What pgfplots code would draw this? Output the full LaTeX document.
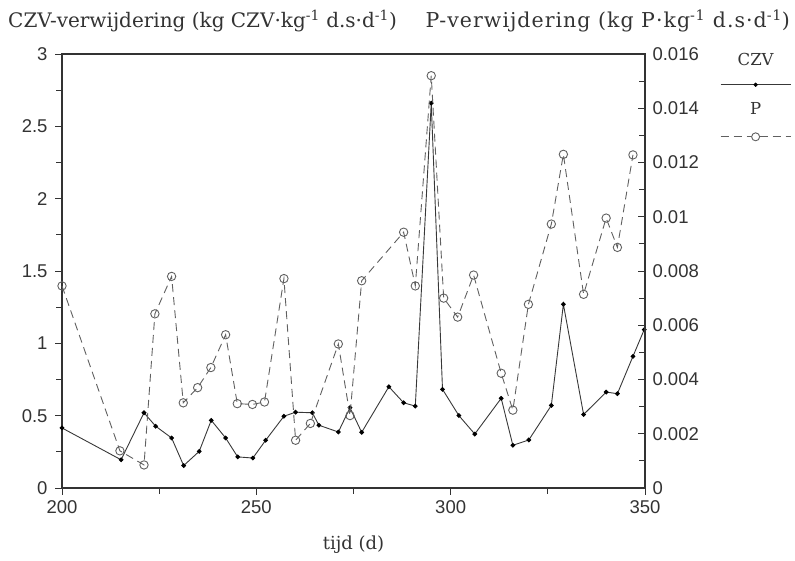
\documentclass[border=0pt]{standalone}
\usepackage{fontspec}
\setmainfont{DejaVu Serif}
\newfontfamily\ticksf{Liberation Sans}
\usepackage{pgfplots}
\pgfplotsset{compat=1.18}
\definecolor{axc}{HTML}{333333}
\definecolor{czvc}{HTML}{383838}
\definecolor{pc}{HTML}{606060}

\pgfplotstableread{
x y
200.0 0.415
215.2 0.195
221.1 0.520
224.1 0.427
228.2 0.346
231.3 0.155
235.3 0.253
238.4 0.468
242.1 0.346
245.2 0.215
249.1 0.207
252.4 0.330
257.1 0.496
260.1 0.524
264.4 0.520
266.1 0.434
271.1 0.387
274.1 0.555
277.1 0.385
284.1 0.700
287.9 0.589
290.9 0.566
295.0 2.660
297.9 0.682
302.1 0.501
306.2 0.373
313.0 0.620
316.0 0.295
320.1 0.332
325.9 0.571
329.0 1.270
334.2 0.508
340.0 0.663
342.9 0.652
346.9 0.910
349.8 1.095
}\czvdata

\pgfplotstableread{
x y
200.0 0.00745
214.9 0.00137
221.1 0.00085
223.9 0.00642
228.2 0.00780
231.2 0.00314
234.9 0.00370
238.3 0.00444
242.1 0.00565
245.1 0.00311
249.0 0.00308
252.1 0.00317
257.1 0.00772
260.1 0.00176
263.9 0.00238
271.1 0.00531
274.1 0.00267
277.1 0.00764
287.9 0.00943
290.9 0.00745
295.0 0.01520
298.2 0.00700
301.8 0.00630
305.9 0.00785
313.0 0.00423
316.0 0.00287
320.0 0.00677
325.9 0.00973
329.0 0.01230
334.2 0.00714
340.0 0.00995
342.9 0.00887
346.9 0.01228
}\pdata

\begin{document}
\begin{tikzpicture}
\useasboundingbox (0,0) rectangle (795pt,561pt);
\begin{axis}[
  at={(62pt,73pt)}, anchor=south west,
  scale only axis, width=583pt, height=434pt,
  xmin=200, xmax=350, ymin=0, ymax=3,
  clip=false,
  xtick={200,250,300,350}, xticklabels={200,250,300,350},
  minor xtick={225,275,325},
  ytick={0,0.5,1,1.5,2,2.5,3}, yticklabels={0,0.5,1,1.5,2,2.5,3},
  minor ytick={0.25,0.75,1.25,1.75,2.25,2.75},
  xtick pos=lower, ytick pos=left, tick align=outside,
  major tick length=7pt, minor tick length=6pt,
  tick style={axc, line width=0.8pt},
  axis line style={axc, line width=1.1pt},
  tick label style={font=\ticksf\fontsize{18.5}{18.5}\selectfont, text=axc},
  yticklabel style={xshift=-4pt},
  xticklabel style={yshift=-2pt},
  xlabel={tijd (d)},
  xlabel style={at={(axis description cs:0.5,-0.131)}, anchor=center, font=\fontsize{18}{18}\selectfont, text=axc},
]
\addplot[czvc, line width=0.9pt, mark=*, mark size=1.9pt, mark options={fill=black, draw=black, solid}] table[x=x,y=y] {\czvdata};
\node[anchor=west, font=\fontsize{20}{20}\selectfont, text=axc, inner sep=0pt] at (rel axis cs:-0.0926,1.076) {CZV-verwijdering (kg CZV·kg\textsuperscript{-1} d.s·d\textsuperscript{-1})};
\node[anchor=east, font=\fontsize{20.5}{21}\selectfont\addfontfeature{LetterSpace=5}, text=axc, inner sep=0pt] at (rel axis cs:1.249,1.076) {P-verwijdering (kg P·kg\textsuperscript{-1} d.s·d\textsuperscript{-1})};
\end{axis}
\begin{axis}[
  at={(62pt,73pt)}, anchor=south west,
  scale only axis, width=583pt, height=434pt,
  xmin=200, xmax=350, ymin=0, ymax=0.016,
  clip=false, scaled y ticks=false,
  axis x line=none, axis y line*=right,
  ytick={0,0.002,0.004,0.006,0.008,0.01,0.012,0.014,0.016},
  yticklabels={0,0.002,0.004,0.006,0.008,0.01,0.012,0.014,0.016},
  minor ytick={0.001,0.003,0.005,0.007,0.009,0.011,0.013,0.015},
  tick align=inside,
  major tick length=7pt, minor tick length=6pt,
  tick style={axc, line width=0.8pt},
  axis line style={axc, line width=1.1pt},
  tick label style={font=\ticksf\fontsize{18.5}{18.5}\selectfont, text=axc},
  yticklabel style={xshift=4pt},
  legend style={at={(1.1286,1.003)}, anchor=north west, draw=none, fill=none,
     row sep=16pt, inner sep=0pt, nodes={inner sep=0pt}},
  legend cell align=center,
]
\addlegendimage{legend image code/.code={
  \node[font=\fontsize{16.5}{16.5}\selectfont, text=axc, minimum width=70pt, draw=none] at (35pt,0pt) {CZV};
}}
\addlegendentry{}
\addlegendimage{legend image code/.code={
  \draw[czvc, line width=0.9pt] (0pt,0pt) -- (70pt,0pt);
  \fill[black] (35pt,0pt) circle (1.9pt);
}}
\addlegendentry{}
\addlegendimage{legend image code/.code={
  \node[font=\fontsize{16.5}{16.5}\selectfont, text=axc, minimum width=70pt, draw=none] at (35pt,0pt) {P};
}}
\addlegendentry{}
\addlegendimage{legend image code/.code={
  \draw[pc, line width=0.9pt, dash pattern=on 8pt off 5pt] (0pt,0pt) -- (70pt,0pt);
  \draw[pc, line width=0.9pt, fill=white] (35pt,0pt) circle (4pt);
}}
\addlegendentry{}
\addplot[pc, line width=0.9pt, dash pattern=on 8pt off 5pt, mark=o, mark size=4.2pt, mark options={solid, fill=white, draw=pc}, forget plot] table[x=x,y=y] {\pdata};
\end{axis}
\end{tikzpicture}
\end{document}
